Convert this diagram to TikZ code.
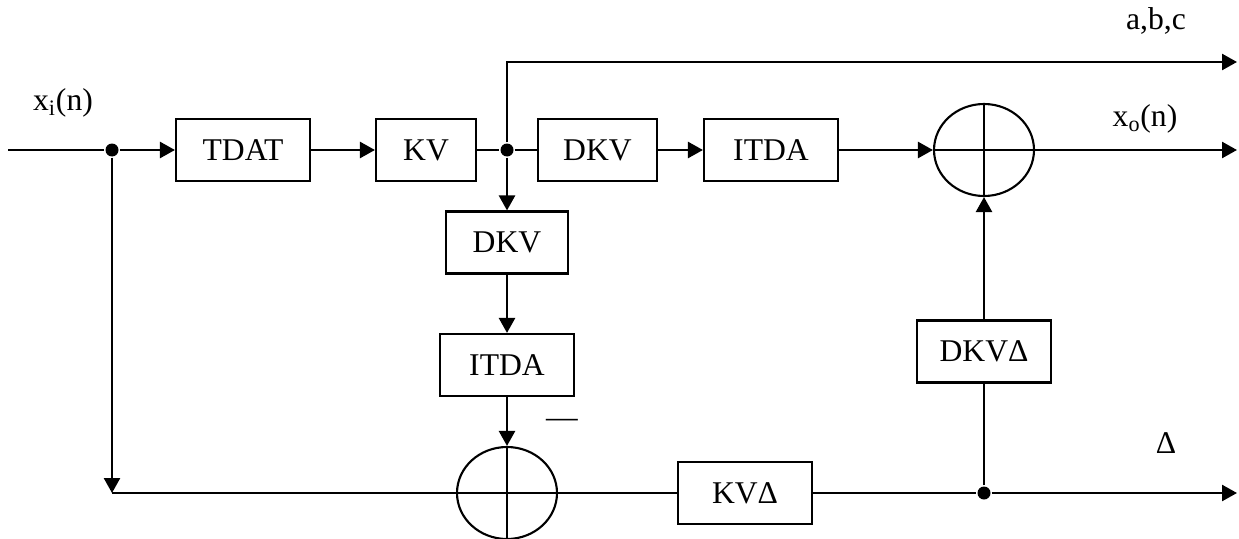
\documentclass[tikz,border=0pt]{standalone}
\usepackage{fontspec}
\setmainfont{Liberation Serif}
\usetikzlibrary{arrows.meta, shapes.geometric}

\begin{document}
\begin{tikzpicture}[>={Triangle[length=3mm, width=3.2mm]}, line width=1.4pt,
  font=\fontsize{18}{21}\selectfont,
  block/.style={draw, line width=1.2pt, minimum height=1.24cm, minimum width=2.68cm, inner sep=0pt},
  sum/.style={draw, ellipse, line width=1.2pt, minimum width=2cm, minimum height=1.84cm, inner sep=0pt},
  dot/.style={circle, fill, inner sep=0pt, minimum size=2.6mm}]
\useasboundingbox (0,0) rectangle (24.78,10.76);
% Main row
\coordinate (in) at (0.16,7.76);
\node[dot] (j1) at (2.24,7.76) {};
\node[block] (tdat) at (4.86,7.76) {TDAT};
\node[block, minimum width=2cm] (kv) at (8.52,7.76) {KV};
\node[dot] (j2) at (10.14,7.76) {};
\node[block, minimum width=2.38cm] (dkv1) at (11.95,7.76) {DKV};
\node[block] (itda1) at (15.42,7.76) {ITDA};
\node[sum] (sum1) at (19.68,7.76) {};
\draw (sum1.north) -- (sum1.south) (sum1.west) -- (sum1.east);
\coordinate (xo) at (24.74,7.76);
\coordinate (top) at (10.14,9.52);
\coordinate (abc) at (24.74,9.52);
% Middle column
\node[block, minimum width=2.44cm] (dkv2) at (10.14,5.91) {DKV};
\node[block] (itda2) at (10.14,3.46) {ITDA};
\node[sum] (sum2) at (10.14,0.90) {};
\draw (sum2.north) -- (sum2.south) (sum2.west) -- (sum2.east);
\node (minus) at (11.24,2.30) {---};
% Bottom row
\coordinate (corner) at (2.24,0.90);
\node[block] (kvd) at (14.9,0.90) {KVΔ};
\node[dot] (j3) at (19.68,0.90) {};
\node[block] (dkvd) at (19.68,3.73) {DKVΔ};
\coordinate (dout) at (24.74,0.90);
% Labels
\node (xi) at (1.26,8.70) {x\textsubscript{i}(n)};
\node (xol) at (22.9,8.38) {x\textsubscript{o}(n)};
\node (abcl) at (23.12,10.34) {a,b,c};
\node (dl) at (23.32,1.90) {Δ};
% Connectors
\draw (in) -- (j1);
\draw[->] (j1) -- (tdat);
\draw[->] (tdat) -- (kv);
\draw (kv) -- (j2) -- (dkv1);
\draw[->] (dkv1) -- (itda1);
\draw[->] (itda1) -- (sum1);
\draw[->] (sum1) -- (xo);
\draw[->] (j2) -- (top) -- (abc);
\draw[->] (j2) -- (dkv2);
\draw[->] (dkv2) -- (itda2);
\draw[->] (itda2) -- (sum2);
\draw[->] (j1) -- (corner);
\draw (corner) -- (sum2) -- (kvd) -- (j3);
\draw[->] (j3) -- (dout);
\draw (j3) -- (dkvd);
\draw[->] (dkvd) -- (sum1);
\end{tikzpicture}
\end{document}
